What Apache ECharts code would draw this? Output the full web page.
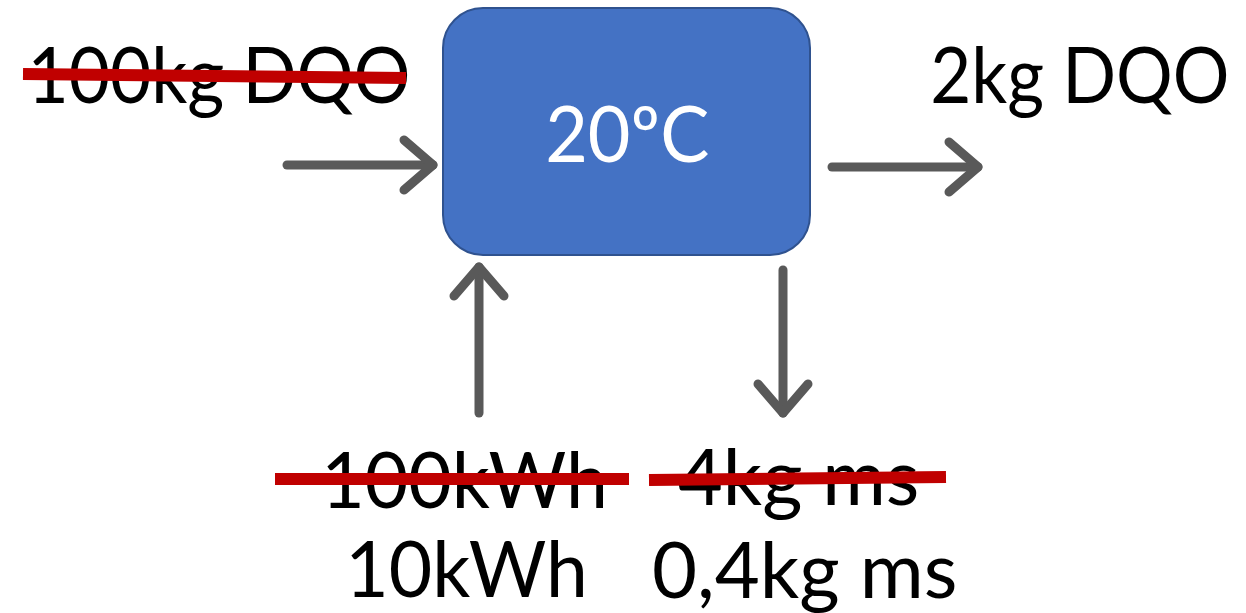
<!DOCTYPE html>
<html>
<head>
<meta charset="utf-8">
<script src="https://cdn.jsdelivr.net/npm/echarts@6/dist/echarts.min.js"></script>
<style>
  html, body { margin: 0; padding: 0; background: #ffffff; }
  #chart { width: 1246px; height: 613px; }
</style>
</head>
<body>
<div id="chart"></div>
<script>
// ---- Diagram content ----
const labels = ['100kg DQO', '2kg DQO', '20ºC', '100kWh', '4kg ms', '10kWh', '0,4kg ms'];
const crossedOut = [true, false, false, true, true, false, false];
const labelRole = ['input', 'output', 'process', 'input', 'output', 'input', 'output'];

// ---- Layout (diagram units on hidden axes) ----
const labelAnchor = [[33, 103], [933, 103], [548, 162], [327, 508], [678, 505], [351, 597], [654, 598]];
const labelInkWidth = [375, 294, 160, 276, 239, 232, 301];
const processBox = [[443, 8, 810, 255]];
const arrowLines = [[287, 165, 433, 165], [832, 167, 978, 167], [479, 413, 479, 267], [783, 270, 783, 413]];
const strikeLines = [[23, 74, 406, 78], [275, 479, 629, 479], [649, 480, 946, 477]];

const FONT_FAMILY = 'Lato';
const FONT_SIZE = 77;
const FONT = FONT_SIZE + 'px ' + FONT_FAMILY;

const ctx = document.createElement('canvas').getContext('2d');
ctx.font = FONT;
function metrics(text) {
  ctx.textBaseline = 'alphabetic';
  const a = ctx.measureText(text);
  ctx.textBaseline = 'middle';
  const m = ctx.measureText(text);
  return {
    left: a.actualBoundingBoxLeft,
    ink: a.actualBoundingBoxLeft + a.actualBoundingBoxRight,
    midOffset: a.actualBoundingBoxAscent - m.actualBoundingBoxAscent
  };
}

const textData = labels.map((t, i) => [labelAnchor[i][0], labelAnchor[i][1], i]);

const chart = echarts.init(document.getElementById('chart'));
chart.setOption({
  animation: false,
  backgroundColor: '#ffffff',
  grid: { left: 0, right: 0, top: 0, bottom: 0 },
  xAxis: { type: 'value', min: 0, max: 1246, show: false },
  yAxis: { type: 'value', min: 0, max: 613, inverse: true, show: false },
  series: [
    {
      type: 'custom', name: 'process', z: 1,
      data: processBox,
      renderItem: function (params, api) {
        const p0 = api.coord([api.value(0), api.value(1)]);
        const p1 = api.coord([api.value(2), api.value(3)]);
        return {
          type: 'rect',
          shape: { x: p0[0], y: p0[1], width: p1[0] - p0[0], height: p1[1] - p0[1], r: 40 },
          style: { fill: '#4472C4', stroke: '#2F528F', lineWidth: 2 }
        };
      }
    },
    {
      type: 'custom', name: 'arrows', z: 2,
      data: arrowLines,
      renderItem: function (params, api) {
        const a = api.coord([api.value(0), api.value(1)]);
        const b = api.coord([api.value(2), api.value(3)]);
        const dx = b[0] - a[0], dy = b[1] - a[1];
        const len = Math.sqrt(dx * dx + dy * dy);
        const ux = dx / len, uy = dy / len;
        const back = 29, side = 25;
        const h1 = [b[0] - ux * back - uy * side, b[1] - uy * back + ux * side];
        const h2 = [b[0] - ux * back + uy * side, b[1] - uy * back - ux * side];
        const st = { stroke: '#595959', lineWidth: 9, lineCap: 'round', lineJoin: 'round', fill: null };
        return {
          type: 'group',
          children: [
            { type: 'line', shape: { x1: a[0], y1: a[1], x2: b[0], y2: b[1] }, style: st },
            { type: 'polyline', shape: { points: [h1, b, h2] }, style: st }
          ]
        };
      }
    },
    {
      type: 'custom', name: 'labels', z: 3,
      data: textData,
      renderItem: function (params, api) {
        const i = api.value(2);
        const text = labels[i];
        const m = metrics(text);
        const s = labelInkWidth[i] / m.ink;
        const p = api.coord([api.value(0), api.value(1)]);
        return {
          type: 'text',
          x: p[0] + m.left * s,
          y: p[1] - m.midOffset,
          scaleX: s,
          style: {
            text: text,
            fontFamily: FONT_FAMILY,
            fontSize: FONT_SIZE,
            fill: labelRole[i] === 'process' ? '#ffffff' : '#000000',
            align: 'left',
            verticalAlign: 'middle'
          }
        };
      }
    },
    {
      type: 'custom', name: 'strikes', z: 4,
      data: strikeLines,
      renderItem: function (params, api) {
        const a = api.coord([api.value(0), api.value(1)]);
        const b = api.coord([api.value(2), api.value(3)]);
        return {
          type: 'line',
          shape: { x1: a[0], y1: a[1], x2: b[0], y2: b[1] },
          style: { stroke: '#C00000', lineWidth: 12, lineCap: 'butt' }
        };
      }
    }
  ]
});
</script>
</body>
</html>
